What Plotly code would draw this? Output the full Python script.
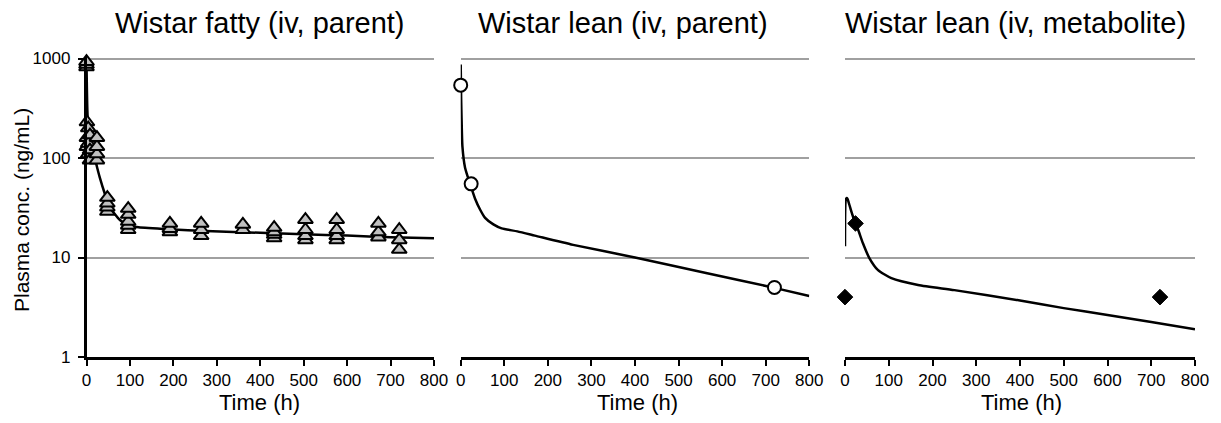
import plotly.graph_objects as go

# ---------------- data ----------------
# Panel 1: Wistar fatty (iv, parent) observed
fatty_t = [0, 0, 0,
           1, 1, 1,
           4, 4, 4,
           8, 8, 8,
           24, 24, 24, 24,
           48, 48, 48, 48,
           96, 96, 96, 96, 96,
           192, 192, 192,
           264, 264, 264,
           360, 360,
           432, 432, 432, 432,
           504, 504, 504, 504,
           576, 576, 576, 576,
           672, 672, 672,
           720, 720, 720]
fatty_c = [820, 870, 930,
           130, 160, 230,
           110, 140, 200,
           95, 120, 170,
           95, 110, 130, 160,
           29, 32, 35, 40,
           19, 21, 23, 27, 31,
           18, 19.5, 22,
           16.5, 19, 22,
           19, 21.5,
           15.7, 17, 18, 20,
           15, 16.5, 19, 24,
           15, 16.5, 19, 24,
           16, 18, 22,
           12, 15, 19]
# Panel 1 model curve
fatty_fit_t = [0, 2, 5, 10, 15, 20, 30, 42, 54, 77, 96, 120, 190, 275, 400, 500, 600, 700, 800]
fatty_fit_c = [900, 300, 170, 130, 110, 95, 65, 44, 32, 23.8, 21, 20.1, 19.2, 18.5, 17.7, 17.1, 16.6, 16.0, 15.6]

# Panel 2: Wistar lean (iv, parent)
lean_t = [0, 24, 720]
lean_c = [540, 55, 5]
lean_fit_t = [0, 1, 2, 4, 10, 21, 33, 45, 56, 75, 94, 130, 170, 258, 400, 563, 720, 800]
lean_fit_c = [870, 400, 250, 130, 80, 56, 39, 30, 25, 21.5, 19.6, 18.3, 16.6, 13.4, 10.0, 7.0, 4.95, 4.1]

# Panel 3: Wistar lean (iv, metabolite)
met_t = [0, 24, 720]
met_c = [4, 22, 4]
met_fit_t = [0, 0.5, 2, 5, 9, 15, 22, 30, 41, 56, 75, 106, 167, 250, 400, 500, 600, 700, 800]
met_fit_c = [13, 30, 38.5, 39.5, 35, 28.5, 23, 19, 13.9, 9.8, 7.5, 6.2, 5.3, 4.7, 3.7, 3.1, 2.65, 2.25, 1.9]

titles = ["Wistar fatty (iv, parent)", "Wistar lean (iv, parent)", "Wistar lean (iv, metabolite)"]
x_title = "Time (h)"
y_title = "Plasma conc. (ng/mL)"
x_ticks = [0, 100, 200, 300, 400, 500, 600, 700, 800]
y_ticks = [1, 10, 100, 1000]

# ---------------- figure ----------------
W, H = 1221, 423
FONT = "Liberation Sans, Arial, sans-serif"


def px(x):
    return x / W


def py(y):
    return 1 - y / H


fig = go.Figure()

line_style = dict(color="black", width=2.5, shape="spline", smoothing=0.6)

fig.add_trace(go.Scatter(x=fatty_fit_t, y=fatty_fit_c, mode="lines", line=line_style,
                         xaxis="x", yaxis="y", showlegend=False, hoverinfo="skip"))
fig.add_trace(go.Scatter(x=fatty_t, y=fatty_c, mode="markers",
                         marker=dict(symbol="triangle-up", size=13, color="#c0c0c0",
                                     line=dict(color="black", width=2)),
                         cliponaxis=False, xaxis="x", yaxis="y", showlegend=False))

fig.add_trace(go.Scatter(x=lean_fit_t, y=lean_fit_c, mode="lines", line=line_style,
                         xaxis="x2", yaxis="y2", showlegend=False, hoverinfo="skip"))
fig.add_trace(go.Scatter(x=lean_t, y=lean_c, mode="markers",
                         marker=dict(symbol="circle", size=13, color="white",
                                     line=dict(color="black", width=2)),
                         cliponaxis=False, xaxis="x2", yaxis="y2", showlegend=False))

fig.add_trace(go.Scatter(x=met_fit_t, y=met_fit_c, mode="lines", line=line_style,
                         xaxis="x3", yaxis="y3", showlegend=False, hoverinfo="skip"))
fig.add_trace(go.Scatter(x=met_t, y=met_c, mode="markers",
                         marker=dict(symbol="diamond", size=12, color="black",
                                     line=dict(color="black", width=1)),
                         cliponaxis=False, xaxis="x3", yaxis="y3", showlegend=False))

x_domains = [[px(86.5), px(434)], [px(460.7), px(809.3)], [px(845), px(1195)]]
Y_TOP_RANGE = 3.02
y_bottom = 357.0
y_top = y_bottom - Y_TOP_RANGE * 99.5
y_domain = [py(y_bottom), py(y_top)]

xaxis_common = dict(range=[0, 800], tickvals=x_ticks, ticks="outside", ticklen=6,
                    tickwidth=2, tickcolor="black", showline=True, linecolor="black",
                    linewidth=2.5, showgrid=False, zeroline=False,
                    tickfont=dict(family=FONT, size=17, color="black"))
yaxis_common = dict(type="log", range=[0, Y_TOP_RANGE], tickvals=y_ticks, showgrid=True,
                    gridcolor="#a0a0a0", gridwidth=1.6, zeroline=False,
                    tickfont=dict(family=FONT, size=17, color="black"))

layout = dict(width=W, height=H, margin=dict(l=0, r=0, t=0, b=0, autoexpand=False),
              paper_bgcolor="white", plot_bgcolor="white", showlegend=False)
for i in range(3):
    sx = "" if i == 0 else str(i + 1)
    xa = dict(xaxis_common, domain=x_domains[i], anchor="y" + sx)
    ya = dict(yaxis_common, domain=y_domain, anchor="x" + sx)
    if i == 0:
        ya.update(showline=True, linecolor="black", linewidth=2.5, ticks="outside",
                  ticklen=6, tickwidth=2, tickcolor="black", showticklabels=True,
                  ticklabelstandoff=4)
    else:
        ya.update(showline=False, ticks="", showticklabels=False)
    layout["xaxis" + sx] = xa
    layout["yaxis" + sx] = ya

title_x = [260, 623, 1015]
xt_x = [259, 637, 1021]
annotations = []
for i in range(3):
    annotations.append(dict(text=titles[i], x=px(title_x[i]), y=py(23), xref="paper", yref="paper",
                            xanchor="center", yanchor="middle", showarrow=False,
                            font=dict(family=FONT, size=29, color="black")))
    annotations.append(dict(text=x_title, x=px(xt_x[i]), y=py(402), xref="paper", yref="paper",
                            xanchor="center", yanchor="middle", showarrow=False,
                            font=dict(family=FONT, size=22, color="black")))
annotations.append(dict(text=y_title, x=px(21), y=py(210), xref="paper", yref="paper",
                        xanchor="center", yanchor="middle", showarrow=False, textangle=-90,
                        font=dict(family=FONT, size=21, color="black")))
layout["annotations"] = annotations

fig.update_layout(**layout)
fig.write_html("out.html")
